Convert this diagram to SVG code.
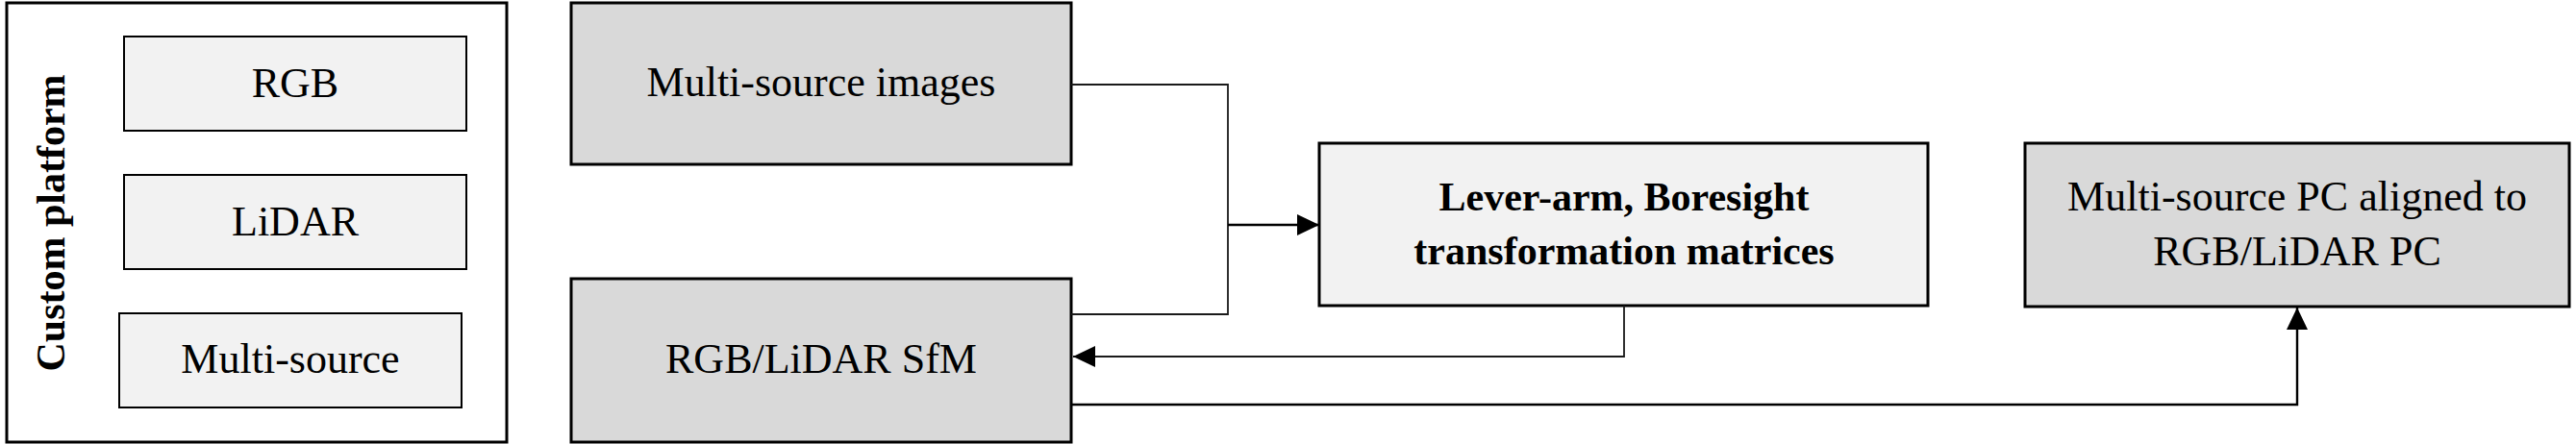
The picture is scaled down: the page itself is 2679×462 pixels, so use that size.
<svg xmlns="http://www.w3.org/2000/svg" width="2679" height="462" viewBox="0 0 2679 462">
<style>
text{font-family:"Liberation Serif","Times New Roman",serif;font-size:44px;fill:#000;text-anchor:middle}
.b{font-weight:bold;font-size:42px}
.outer{fill:#fff;stroke:#000;stroke-width:3}
.sub{fill:#f2f2f2;stroke:#000;stroke-width:2}
.dark{fill:#d9d9d9;stroke:#000;stroke-width:3}
.light{fill:#f2f2f2;stroke:#000;stroke-width:3}
.thin{fill:none;stroke:#1a1a1a;stroke-width:1.8}
.thick{fill:none;stroke:#000;stroke-width:2.4}
</style>
<defs>
<marker id="ah" markerWidth="24" markerHeight="22" refX="23" refY="11" orient="auto" markerUnits="userSpaceOnUse">
<path d="M0,0 L23,11 L0,22 z" fill="#000"/>
</marker>
</defs>
<g id="platform">
<rect class="outer" x="7" y="3" width="520" height="457"/>
<text class="b" transform="translate(67,232) rotate(-90)">Custom platform</text>
</g>
<g id="rgb">
<rect class="sub" x="129" y="38" width="356" height="98"/>
<text x="307" y="101">RGB</text>
</g>
<g id="lidar">
<rect class="sub" x="129" y="182" width="356" height="98"/>
<text x="307" y="245">LiDAR</text>
</g>
<g id="multisource">
<rect class="sub" x="124" y="326" width="356" height="98"/>
<text x="302" y="388">Multi-source</text>
</g>
<g id="images">
<rect class="dark" x="594" y="3" width="520" height="168"/>
<text x="854" y="100">Multi-source images</text>
</g>
<g id="sfm">
<rect class="dark" x="594" y="290" width="520" height="170"/>
<text x="854" y="388">RGB/LiDAR SfM</text>
</g>
<g id="leverarm">
<rect class="light" x="1372" y="149" width="633" height="169"/>
<text class="b" x="1689" y="219">Lever-arm, Boresight</text>
<text class="b" x="1689" y="275">transformation matrices</text>
</g>
<g id="aligned">
<rect class="dark" x="2106" y="149" width="566" height="170"/>
<text x="2389" y="219">Multi-source PC aligned to</text>
<text x="2389" y="276">RGB/LiDAR PC</text>
</g>
<g id="connectors">
<path class="thin" d="M1114,88 H1277 V327 H1114"/>
<path class="thick" d="M1277,234 H1372" marker-end="url(#ah)"/>
<path class="thin" d="M1689,318 V371 H1116" marker-end="url(#ah)"/>
<path class="thick" d="M1114,421 H2389 V320" marker-end="url(#ah)"/>
</g>
</svg>
